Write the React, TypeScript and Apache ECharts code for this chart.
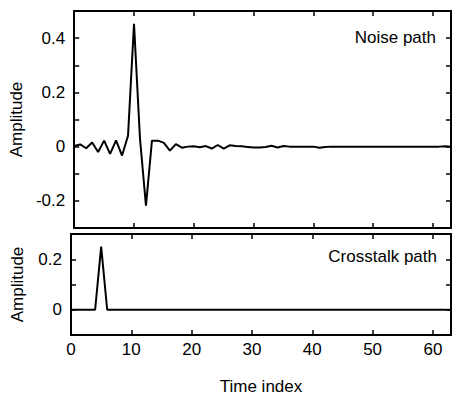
import React, { useEffect, useRef } from "react";
import * as echarts from "echarts";

const timeIndex: number[] = Array.from({ length: 64 }, (_, i) => i);

const noisePath: number[] = [
  0.002, 0.008, -0.006, 0.015, -0.02, 0.022, -0.027, 0.023, -0.033, 0.04,
  0.453, 0.03, -0.218, 0.022, 0.022, 0.014, -0.015, 0.009, -0.004, 0,
  0.001, -0.002, 0.002, -0.007, 0.006, -0.007, 0.005, 0.002, 0.001, -0.001,
  -0.003, -0.003, -0.001, 0.003, -0.003, 0.002, 0, 0, 0, 0,
  0, -0.004, -0.001, 0, 0, 0, 0, 0, 0, 0,
  0, 0, 0, 0, 0, 0, 0, 0, 0, 0,
  0, 0, 0.001, 0,
];

const crosstalkPath: number[] = [
  0, 0, 0, 0, 0, 0.25, 0, 0, 0, 0,
  0, 0, 0, 0, 0, 0, 0, 0, 0, 0,
  0, 0, 0, 0, 0, 0, 0, 0, 0, 0,
  0, 0, 0, 0, 0, 0, 0, 0, 0, 0,
  0, 0, 0, 0, 0, 0, 0, 0, 0, 0,
  0, 0, 0, 0, 0, 0, 0, 0, 0, 0,
  0, 0, 0, 0,
];

const panelTitles: string[] = ["Noise path", "Crosstalk path"];
const xTitle = "Time index";
const yTitle = "Amplitude";

const FONT = "'Liberation Sans', Arial, Helvetica, sans-serif";
const FS = 17;

export default function App() {
  const ref = useRef<HTMLDivElement>(null);

  useEffect(() => {
    if (!ref.current) return;
    const chart = echarts.init(ref.current, null, { renderer: "svg" });

    const yFmt = (v: number) => {
      const k = Math.round(v * 10);
      return k % 2 === 0 ? String(k / 10) : "";
    };

    const lineStyle = { color: "#000", width: 2 };
    const tickStyle = { color: "#000", width: 1.5 };

    const grids = [
      { left: 71, right: 1, top: 11, height: 217 },
      { left: 71, right: 1, top: 234, height: 108 },
    ];

    const xAxisBase = (gridIndex: number, position: string, showLabel: boolean) => ({
      type: "value",
      gridIndex,
      position,
      min: 0,
      max: 63,
      interval: 10,
      axisLine: { show: true, onZero: false, lineStyle },
      axisTick: { show: true, inside: true, length: 5, lineStyle: tickStyle },
      splitLine: { show: false },
      axisLabel: {
        show: showLabel,
        color: "#000",
        fontSize: FS,
        fontFamily: FONT,
        margin: 6,
      },
    });

    const yAxisBase = (
      gridIndex: number,
      position: string,
      min: number,
      max: number,
      showLabel: boolean,
      name: string
    ) => ({
      type: "value",
      gridIndex,
      position,
      min,
      max,
      interval: 0.1,
      name,
      nameLocation: "middle",
      nameGap: 45,
      nameTextStyle: { color: "#000", fontSize: FS, fontFamily: FONT },
      axisLine: { show: true, onZero: false, lineStyle },
      axisTick: { show: true, inside: true, length: 5, lineStyle: tickStyle },
      splitLine: { show: false },
      axisLabel: {
        show: showLabel,
        color: "#000",
        fontSize: FS,
        fontFamily: FONT,
        margin: 9,
        formatter: yFmt,
      },
    });

    const xAx0 = xAxisBase(0, "bottom", false);
    const xAx0t = xAxisBase(0, "top", false);
    const xAx1 = {
      ...xAxisBase(1, "bottom", true),
      name: xTitle,
      nameLocation: "middle",
      nameGap: 43,
      nameTextStyle: { color: "#000", fontSize: FS, fontFamily: FONT },
    };
    const xAx1t = xAxisBase(1, "top", false);

    chart.setOption({
      animation: false,
      backgroundColor: "#fff",
      grid: grids,
      xAxis: [xAx0, xAx0t, xAx1, xAx1t],
      yAxis: [
        yAxisBase(0, "left", -0.3, 0.5, true, yTitle),
        yAxisBase(0, "right", -0.3, 0.5, false, ""),
        yAxisBase(1, "left", -0.1, 0.3, true, yTitle),
        yAxisBase(1, "right", -0.1, 0.3, false, ""),
      ],
      series: [
        {
          type: "line",
          xAxisIndex: 0,
          yAxisIndex: 0,
          data: timeIndex.map((t, i) => [t, noisePath[i]]),
          showSymbol: false,
          lineStyle: { color: "#000", width: 2 },
          clip: true,
        },
        {
          type: "line",
          xAxisIndex: 2,
          yAxisIndex: 2,
          data: timeIndex.map((t, i) => [t, crosstalkPath[i]]),
          showSymbol: false,
          lineStyle: { color: "#000", width: 2 },
          clip: true,
        },
      ],
      graphic: [
        {
          type: "text",
          x: 436,
          y: 37,
          style: {
            text: panelTitles[0],
            fill: "#000",
            font: `${FS}px ${FONT}`,
            textAlign: "right",
            textVerticalAlign: "middle",
          },
        },
        {
          type: "text",
          x: 437,
          y: 256,
          style: {
            text: panelTitles[1],
            fill: "#000",
            font: `${FS}px ${FONT}`,
            textAlign: "right",
            textVerticalAlign: "middle",
          },
        },
      ],
    });

    return () => chart.dispose();
  }, []);

  return (
    <div
      ref={ref}
      style={{ position: "absolute", left: 0, top: 0, width: 452, height: 396 }}
    />
  );
}
